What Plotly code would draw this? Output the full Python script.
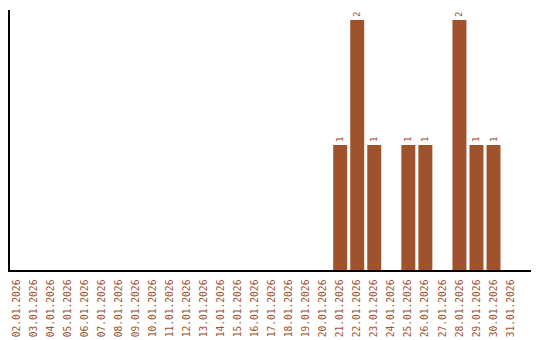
import plotly.graph_objects as go

dates = [f"{d:02d}.01.2026" for d in range(2, 32)]
counts = [0]*19 + [1, 2, 1, 0, 1, 1, 0, 2, 1, 1, 0]
labels = [str(v) if v > 0 else "" for v in counts]

color = "#A0522D"
fig = go.Figure(go.Bar(
    x=dates, y=counts, marker_color=color, marker_line_width=0,
    text=labels, textposition="outside", textangle=-90,
    textfont=dict(family="DejaVu Sans Mono", size=9, color=color),
    cliponaxis=False,
))
fig.update_layout(
    width=540, height=340, margin=dict(l=10, r=9, t=10, b=70),
    plot_bgcolor="white", paper_bgcolor="white", bargap=0.18,
    showlegend=False,
)
fig.update_xaxes(type="category", range=[-0.38, 30.2], automargin=False,
                 showline=True, linecolor="black", linewidth=1.5,
                 tickangle=-90, tickfont=dict(family="DejaVu Sans Mono", size=9.6, color=color),
                 ticklabelstandoff=4,
                 showgrid=False, ticks="")
fig.update_yaxes(range=[0, 2.08], automargin=False, showline=True, linecolor="black", linewidth=1.5,
                 showticklabels=False, showgrid=False, zeroline=False, ticks="")
fig.write_html("out.html")
